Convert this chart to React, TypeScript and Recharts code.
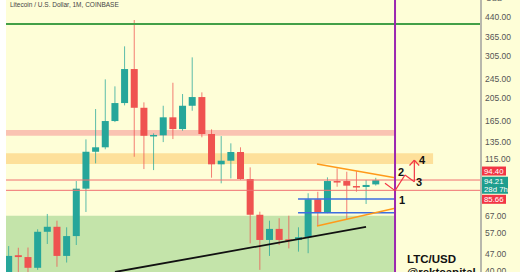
import React from "react";
import {
  Bar,
  ComposedChart,
  ReferenceArea,
  ReferenceDot,
  ReferenceLine,
  XAxis,
  YAxis,
} from "recharts";

// monthly LTC/USD candles (log price scale)
const opens = [
  38, 46.4, 45.6, 41.2, 57.9, 60.7, 46.1, 55.6, 87.0, 123.3,
  128.6, 164.8, 195.3, 269.3, 186.8, 143.4, 144, 170.7, 152.8, 190.4,
  206.7, 145.8, 109.5, 113.3, 123, 95.3, 68, 53.6, 59.5, 53.9,
  53.6, 55, 78.7, 69.8, 93.5, 93.5, 89.2, 88.4, 90.6,
];
const highs = [
  50.6, 49.8, 49.9, 59.3, 68.5, 64.3, 60.4, 93.5, 138.6, 184.6,
  244.3, 228.7, 333.7, 428, 196.6, 146.7, 190.4, 236.6, 212.7, 300.7,
  216.1, 152.4, 143, 133.5, 128.6, 106.4, 70, 64.3, 65.8, 67.4,
  60.4, 83.3, 84.5, 96.8, 105.4, 102.1, 102.7, 94.4, 96.4,
];
const lows = [
  36, 39, 38, 40.4, 51.6, 41.6, 43.3, 51.1, 69.8, 110.5,
  126.2, 163.2, 191.1, 117.6, 104.7, 103.7, 135.1, 139, 150.4, 181.6,
  141.3, 96.5, 91.5, 95.9, 94.5, 51.9, 40.4, 46.1, 51.1, 49.5,
  48, 47.3, 61.2, 69, 88.6, 65.1, 84.5, 75.3, 89.6,
];
const closes = [
  46.1, 45.6, 41.2, 57.9, 60.7, 46.1, 55.6, 87.0, 123.3, 128.6,
  164.8, 195.3, 269.3, 186.8, 143.4, 144.5, 170.7, 152.8, 190.4, 206.7,
  145.8, 109.5, 113.3, 123, 95.3, 68, 53.6, 59.5, 53.6, 53.3,
  55, 78.7, 69.8, 93.5, 92.6, 89.5, 88.4, 90.1, 94.21,
];

const priceTicks = [40, 47, 57, 67, 115, 135, 165, 205, 245, 305, 365, 440];

// drawn annotations, in [index, price] pairs
const blackTrend = [[10.97, 39.6], [36.96, 60.6]];
const triangleTop = [[31.88, 109.8], [39.96, 96.5]];
const triangleBottom = [[31.88, 61.2], [39.96, 72.3]];
const blueLevels = [78.9, 69.3];
const redLevels = [94.4, 85.66];
const projection = [
  [[38.92, 91.5], [39.96, 85.4]],
  [[39.96, 85.4], [40.99, 99.0]],
  [[40.99, 99.0], [41.96, 92.9]],
  [[41.96, 92.9], [41.96, 114]],
  [[41.46, 108.3], [41.96, 114]],
  [[42.46, 108.3], [41.96, 114]],
];
const stepLabels = [
  { text: "1", i: 40.68, p: 78.2 },
  { text: "2", i: 40.58, p: 101.8 },
  { text: "3", i: 42.44, p: 92.6 },
  { text: "4", i: 42.75, p: 114 },
];

const candles = opens.map((o, i) => ({
  i,
  o,
  h: highs[i],
  l: lows[i],
  c: closes[i],
}));

const UP = "#26a69a";
const DOWN = "#ef5350";
const FONT = "'Liberation Sans', Arial, sans-serif";

function Candle(props: any) {
  const { x, y, width, height } = props;
  const d = props.payload ?? props;
  if (x == null || y == null) return null;
  const yHigh = Math.min(y, y + height);
  const yLow = Math.max(y, y + height);
  const lh = Math.log(d.h);
  const ll = Math.log(d.l);
  const toY = (p: number) => yHigh + ((lh - Math.log(p)) / (lh - ll)) * (yLow - yHigh);
  const color = d.c >= d.o ? UP : DOWN;
  const cx = x + width / 2;
  const top = toY(Math.max(d.o, d.c));
  const bot = toY(Math.min(d.o, d.c));
  return (
    <g>
      <line x1={cx} x2={cx} y1={yHigh} y2={yLow} stroke={color} strokeOpacity={0.75} strokeWidth={1} />
      <rect x={x} y={top} width={width} height={Math.max(1.5, bot - top)} fill={color} />
    </g>
  );
}

function priceTag(lines: string[], color: string, dy: number) {
  return (props: any) => {
    const vb = props.viewBox;
    const left = vb.x + vb.width;
    const h = lines.length * 8 + 1;
    const top = vb.y + dy - h / 2;
    return (
      <g>
        <rect x={left} y={top} width={lines.length > 1 ? 27 : 25} height={h} fill={color} />
        {lines.map((t, k) => (
          <text
            key={t}
            x={left + 3}
            y={top + 7 + k * 8.2}
            fill="#fff"
            fontSize={7.8}
            fontFamily={FONT}
          >
            {t}
          </text>
        ))}
      </g>
    );
  };
}

export default function App() {
  return (
    <div
      style={{
        position: "fixed",
        left: 0,
        top: 0,
        width: 520,
        height: 272,
        background: "#ffffff",
        overflow: "hidden",
      }}
    >
      <div
        style={{
          position: "absolute",
          left: 6,
          top: 0,
          width: 514,
          height: 272,
          background: "#fefed7",
        }}
      >
        <ComposedChart
          width={514}
          height={272}
          data={candles}
          margin={{ top: 0, right: 0, bottom: 0, left: 0 }}
        >
          <XAxis dataKey="i" type="number" domain={[-0.31, 48.86]} allowDataOverflow hide />
          <YAxis
            orientation="right"
            width={39}
            scale="log"
            domain={[39.6, 517]}
            allowDataOverflow
            ticks={priceTicks}
            interval={0}
            tickFormatter={(v: number) => v.toFixed(2)}
            tick={{ fontSize: 8.5, fill: "#555", fontFamily: FONT }}
            tickLine={false}
            tickSize={0}
            tickMargin={4}
            axisLine={{ stroke: "#b8b8ac", strokeWidth: 2 }}
          />

          <ReferenceArea x1={-0.31} x2={39.96} y1={39} y2={67.3} fill="#c4e4aa" fillOpacity={1} stroke="none" ifOverflow="hidden" />
          <ReferenceArea x1={-0.31} x2={39.96} y1={143.5} y2={151.4} fill="#fac3b2" fillOpacity={1} stroke="none" ifOverflow="hidden" />
          <ReferenceArea x1={-0.31} x2={43.9} y1={109.8} y2={121.5} fill="#fde09a" fillOpacity={1} stroke="none" ifOverflow="hidden" />

          <ReferenceLine y={411.8} stroke="#43a047" strokeWidth={2} />
          {redLevels.map((p) => (
            <ReferenceLine key={p} y={p} stroke="#f07070" strokeWidth={1} />
          ))}
          {blueLevels.map((p) => (
            <ReferenceLine
              key={p}
              segment={[{ x: 29.92, y: p }, { x: 39.96, y: p }]}
              stroke="#3d6ee0"
              strokeWidth={1.6}
              ifOverflow="hidden"
            />
          ))}
          {[blackTrend, triangleTop, triangleBottom].map((s, k) => (
            <ReferenceLine
              key={k}
              segment={[{ x: s[0][0], y: s[0][1] }, { x: s[1][0], y: s[1][1] }]}
              stroke={k === 0 ? "#111" : "#ff9a1a"}
              strokeWidth={k === 0 ? 1.8 : 1.5}
              ifOverflow="hidden"
            />
          ))}
          <ReferenceLine x={39.96} stroke="#9c27b0" strokeWidth={2} />
          {projection.map((s, k) => (
            <ReferenceLine
              key={`p${k}`}
              segment={[{ x: s[0][0], y: s[0][1] }, { x: s[1][0], y: s[1][1] }]}
              stroke="#f23645"
              strokeWidth={1.2}
              ifOverflow="hidden"
            />
          ))}

          <Bar
            dataKey={(d: any) => [d.l, d.h]}
            barSize={7}
            shape={(p: any) => <Candle {...p} />}
            isAnimationActive={false}
          />

          <ReferenceLine y={94.4} stroke="none" label={{ content: priceTag(["94.40"], "#f23645", -9) }} />
          <ReferenceLine y={94.21} stroke="none" label={{ content: priceTag(["94.21", "28d 7h"], "#1f9e8e", 5) }} />
          <ReferenceLine y={85.66} stroke="none" label={{ content: priceTag(["85.66"], "#f23645", 9) }} />

          {stepLabels.map((s) => (
            <ReferenceDot
              key={s.text}
              x={s.i}
              y={s.p}
              r={1}
              fill="none"
              stroke="none"
              label={{ value: s.text, position: "center", fill: "#111", fontSize: 11, fontWeight: 700, fontFamily: FONT }}
            />
          ))}
        </ComposedChart>
      </div>

      <div style={{ position: "absolute", left: 10, top: 0, fontSize: 6.5, color: "#444", fontFamily: FONT, lineHeight: "9px" }}>
        Litecoin / U.S. Dollar, 1M, COINBASE
      </div>
      <div style={{ position: "absolute", left: 486, top: -6, fontSize: 8, color: "#555", fontFamily: FONT }}>
        USD
      </div>
      <div
        style={{
          position: "absolute",
          left: 407,
          top: 253,
          fontSize: 11.5,
          fontWeight: 700,
          color: "#111",
          fontFamily: FONT,
          lineHeight: "13px",
        }}
      >
        LTC/USD
        <br />
        @rektcapital
      </div>
    </div>
  );
}
